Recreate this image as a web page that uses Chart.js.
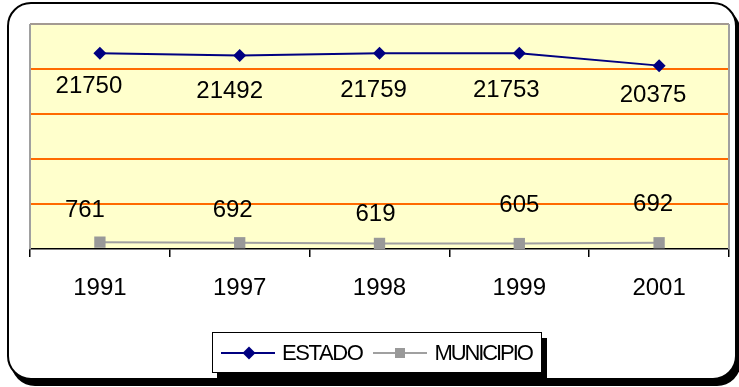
<!DOCTYPE html>
<html>
<head>
<meta charset="utf-8">
<script src="https://cdn.jsdelivr.net/npm/chart.js@4/dist/chart.umd.min.js"></script>
<style>
  html, body { margin: 0; padding: 0; background: #fff; }
  #wrap { position: relative; width: 739px; height: 387px; overflow: hidden; background: #fff; }
  #frame {
    position: absolute; left: 7px; top: 2px; width: 726px; height: 374px;
    border: 2.5px solid #000; border-radius: 24px; background: #fff;
    box-shadow: 4px 6px 0 #000;
  }
  #chart { position: absolute; left: 0; top: 0; }
  #legend {
    position: absolute; left: 212px; top: 332px; width: 328px; height: 39px;
    border: 1.5px solid #000; background: #fff; box-shadow: 5px 6px 0 #000;
    display: flex; align-items: center;
    font-family: "Liberation Sans", Arial, sans-serif; font-size: 22px; color: #000;
  }
  #legend .item { display: flex; align-items: center; }
  #legend svg { display: block; }
</style>
</head>
<body>
<div id="wrap">
  <div id="frame"></div>
  <canvas id="chart" width="739" height="387"></canvas>
  <div id="legend"></div>
</div>
<script>
// Years on the horizontal axis
const years = ['1991', '1997', '1998', '1999', '2001'];

// Series values
const estado = [21750, 21492, 21759, 21753, 20375];
const municipio = [761, 692, 619, 605, 692];

// Series names
const seriesNames = ['ESTADO', 'MUNICIPIO'];

// Value axis range
const yMin = 0;
const yMax = 25000;
const yStep = 5000;

// Nudges (px) for each value label relative to its point
const estadoLabelDx = [-11, -10, -6, -13, -6];
const estadoLabelDy = [31, 34, 35, 35, 28];
const municipioLabelDx = [-15, -7, -4, 0, -6];
const municipioLabelDy = [-34, -34, -31, -40, -40];

const FONT = '"Liberation Sans", Arial, sans-serif';

// Pale plot background plus a thin grey border around the plotting area
const plotFrame = {
  id: 'plotFrame',
  beforeDraw(chart) {
    const { ctx, chartArea: a } = chart;
    ctx.save();
    ctx.fillStyle = '#FFFFCC';
    ctx.fillRect(a.left, a.top, a.right - a.left, a.bottom - a.top);
    ctx.restore();
  },
  beforeDatasetsDraw(chart) {
    const { ctx, chartArea: a } = chart;
    ctx.save();
    ctx.lineWidth = 2;
    ctx.strokeStyle = '#a39a92';
    ctx.beginPath();
    ctx.moveTo(a.left, a.top);
    ctx.lineTo(a.right, a.top);
    ctx.stroke();
    ctx.strokeStyle = '#a0a0a0';
    ctx.beginPath();
    ctx.moveTo(a.left, a.bottom);
    ctx.lineTo(a.left, a.top);
    ctx.moveTo(a.right, a.top);
    ctx.lineTo(a.right, a.bottom);
    ctx.stroke();
    ctx.restore();
  }
};

// Value labels next to each point
const valueLabels = {
  id: 'valueLabels',
  afterDatasetsDraw(chart) {
    const { ctx } = chart;
    const shifts = [[estadoLabelDx, estadoLabelDy], [municipioLabelDx, municipioLabelDy]];
    const size = 24;
    ctx.save();
    ctx.font = size + 'px ' + FONT;
    ctx.fillStyle = '#000';
    ctx.textAlign = 'center';
    ctx.textBaseline = 'alphabetic';
    chart.data.datasets.forEach((ds, di) => {
      const meta = chart.getDatasetMeta(di);
      meta.data.forEach((pt, i) => {
        const [dx, dy] = shifts[di];
        // digits are centred on the target point: baseline sits half a cap-height below
        ctx.fillText(String(ds.data[i]), pt.x + dx[i], pt.y + dy[i] + 0.358 * size);
      });
    });
    ctx.restore();
  }
};

const chart = new Chart(document.getElementById('chart'), {
  type: 'line',
  data: {
    labels: years,
    datasets: [
      {
        label: seriesNames[0],
        data: estado,
        borderColor: '#000080',
        backgroundColor: '#000080',
        borderWidth: 2,
        pointStyle: 'rectRot',
        pointRadius: 6.5,
        pointBorderWidth: 0,
        pointBackgroundColor: '#000080',
        tension: 0
      },
      {
        label: seriesNames[1],
        data: municipio,
        borderColor: '#a0a0a0',
        backgroundColor: '#999999',
        borderWidth: 2,
        pointStyle: 'rect',
        pointRadius: 8,
        pointBorderWidth: 0,
        pointBackgroundColor: '#999999',
        tension: 0
      }
    ]
  },
  options: {
    responsive: false,
    animation: false,
    events: [],
    layout: { padding: { left: 30, right: 10, top: 24, bottom: 0 } },
    plugins: {
      legend: { display: false },
      tooltip: { enabled: false }
    },
    scales: {
      x: {
        type: 'category',
        offset: true,
        grid: {
          offset: true,
          drawOnChartArea: false,
          drawTicks: true,
          tickLength: 8,
          color: '#000',
          lineWidth: 1.5
        },
        border: { display: true, color: '#000', width: 1.5 },
        ticks: {
          color: '#000',
          font: { family: FONT, size: 24 },
          padding: 17,
          maxRotation: 0,
          autoSkip: false
        },
        afterFit(scale) { scale.height = 138; }
      },
      y: {
        min: yMin,
        max: yMax,
        ticks: { display: false, stepSize: yStep },
        grid: {
          drawTicks: false,
          lineWidth: 2,
          color: (c) => (c.tick && (c.tick.value === yMin || c.tick.value === yMax)) ? 'rgba(0,0,0,0)' : '#FF6A00'
        },
        border: { display: false },
        afterFit(scale) { scale.width = 0; }
      }
    }
  },
  plugins: [plotFrame, valueLabels]
});

// Legend box: a short line with the series marker, followed by the series name
(function buildLegend() {
  const legend = document.getElementById('legend');
  const ns = 'http://www.w3.org/2000/svg';
  const gaps = [8, 11];
  const tracking = [-1.4, -2.1];
  chart.data.datasets.forEach((ds, i) => {
    const item = document.createElement('div');
    item.className = 'item';
    item.style.marginLeft = gaps[i] + 'px';
    const svg = document.createElementNS(ns, 'svg');
    svg.setAttribute('width', '54');
    svg.setAttribute('height', '16');
    const line = document.createElementNS(ns, 'line');
    line.setAttribute('x1', '0'); line.setAttribute('x2', '54');
    line.setAttribute('y1', '8'); line.setAttribute('y2', '8');
    line.setAttribute('stroke', ds.borderColor);
    line.setAttribute('stroke-width', '2');
    svg.appendChild(line);
    let mark;
    if (ds.pointStyle === 'rectRot') {
      mark = document.createElementNS(ns, 'polygon');
      mark.setAttribute('points', '28,1.5 34.5,8 28,14.5 21.5,8');
    } else {
      mark = document.createElementNS(ns, 'rect');
      mark.setAttribute('x', '22'); mark.setAttribute('y', '3');
      mark.setAttribute('width', '10'); mark.setAttribute('height', '10');
    }
    mark.setAttribute('fill', ds.pointBackgroundColor);
    svg.appendChild(mark);
    const text = document.createElement('span');
    text.textContent = ds.label;
    text.style.marginLeft = '7px';
    text.style.letterSpacing = tracking[i] + 'px';
    item.appendChild(svg);
    item.appendChild(text);
    legend.appendChild(item);
  });
})();
</script>
</body>
</html>
